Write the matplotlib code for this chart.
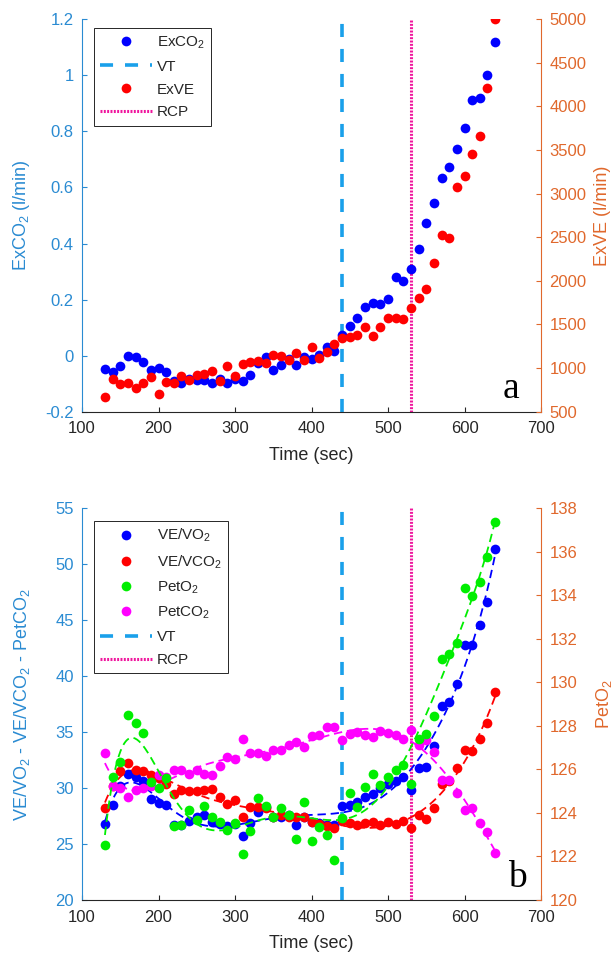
import numpy as np
import matplotlib
matplotlib.use('Agg')
import matplotlib.pyplot as plt
from matplotlib.lines import Line2D

plt.rcParams['font.family'] = ['Liberation Sans', 'DejaVu Sans']
plt.rcParams['mathtext.fontset'] = 'custom'
plt.rcParams['mathtext.rm'] = 'Liberation Sans'
plt.rcParams['mathtext.it'] = 'Liberation Sans:italic'
plt.rcParams['mathtext.default'] = 'regular'
plt.rcParams['axes.unicode_minus'] = False
plt.rcParams['lines.scale_dashes'] = False

# ---------------- data ----------------
time = [130, 140, 150, 160, 170, 180, 190, 200, 210, 220, 230, 240, 250, 260,
        270, 280, 290, 300, 310, 320, 330, 340, 350, 360, 370, 380, 390, 400,
        410, 420, 430, 440, 450, 460, 470, 480, 490, 500, 510, 520, 530, 540,
        550, 560, 570, 580, 590, 600, 610, 620, 630, 640]

ex_co2 = [-0.048, -0.057, -0.037, -0.001, -0.006, -0.024, -0.051, -0.043, -0.060,
          -0.090, -0.099, -0.084, -0.087, -0.087, -0.099, -0.084, -0.099, -0.084,
          -0.090, -0.068, -0.027, -0.004, -0.053, -0.033, -0.013, -0.033, -0.004,
          -0.013, 0.001, 0.032, 0.018, 0.074, 0.106, 0.133, 0.175, 0.189, 0.184,
          0.202, 0.279, 0.266, 0.308, 0.380, 0.472, 0.546, 0.634, 0.672, 0.737,
          0.813, 0.912, 0.920, 1.001, 1.118]

ex_ve = [672, 871, 814, 825, 776, 833, 902, 699, 844, 825, 909, 863, 921, 932,
         970, 852, 1028, 909, 1047, 1074, 1085, 1062, 1150, 1143, 1093, 1177,
         1093, 1238, 1120, 1188, 1276, 1349, 1360, 1380, 1467, 1368, 1475, 1578,
         1578, 1559, 1693, 1800, 1903, 2201, 2526, 2496, 3080, 3203, 3452, 3662,
         4216, 5000]

ve_vo2 = [26.8, 28.5, 30.2, 31.3, 31.0, 30.6, 29.0, 28.7, 28.5, 26.7, 26.7, 27.1,
          27.4, 27.6, 27.0, 26.8, 26.6, 26.8, 25.7, 26.9, 27.9, 28.3, 27.4, 27.4,
          27.6, 26.7, 27.4, 27.0, 26.85, 26.7, 26.7, 28.4, 28.5, 28.8, 29.2, 29.5,
          30.0, 30.4, 30.6, 31.0, 29.8, 31.8, 31.9, 33.8, 37.3, 37.7, 39.3, 42.8,
          42.8, 44.6, 46.6, 51.4]

ve_vco2 = [28.2, 30.2, 31.5, 32.2, 31.6, 31.5, 31.2, 30.9, 30.4, 29.5, 29.8, 29.7,
           29.7, 29.8, 29.9, 29.2, 28.6, 28.9, 27.4, 28.3, 28.3, 28.2, 27.4, 27.6,
           27.4, 27.4, 27.4, 27.0, 26.8, 26.6, 26.4, 27.1, 26.85, 26.7, 26.85, 27.0,
           26.7, 27.0, 26.8, 27.1, 26.4, 27.6, 27.2, 28.2, 30.4, 30.6, 31.8, 33.4,
           33.3, 34.4, 35.8, 38.6]

pet_o2 = [122.53, 125.67, 126.36, 128.5, 128.15, 127.69, 125.44, 125.16, 125.59,
          123.4, 123.45, 124.13, 123.68, 124.32, 123.83, 123.6, 123.2, 123.55,
          122.11, 123.19, 124.70, 124.32, 123.83, 124.21, 123.9, 122.79, 124.52,
          122.73, 123.37, 122.99, 121.84, 123.75, 124.9, 124.29, 125.21, 125.77,
          125.28, 125.67, 125.97, 126.2, 125.33, 127.38, 127.63, 128.45, 131.07,
          131.3, 131.8, 134.32, 133.97, 134.6, 135.78, 137.39]

pet_co2 = [33.16, 30.18, 29.98, 29.17, 29.83, 29.98, 30.2, 31.17, 31.0, 31.6, 31.6,
           31.3, 31.6, 31.26, 31.17, 31.97, 32.8, 32.57, 34.35, 33.1, 33.1, 32.86,
           33.4, 33.4, 33.85, 34.15, 33.7, 34.65, 34.74, 35.5, 35.5, 34.3, 34.83,
           35.04, 34.74, 34.53, 35.13, 34.95, 34.74, 34.35, 35.19, 33.85, 34.3,
           33.25, 30.72, 30.72, 29.53, 28.04, 28.19, 26.9, 26.1, 24.17]

vt_time = 440
rcp_time = 530

x_ticks = [100, 200, 300, 400, 500, 600, 700]
a_left_ticks = [-0.2, 0, 0.2, 0.4, 0.6, 0.8, 1, 1.2]
a_left_labels = ['-0.2', '0', '0.2', '0.4', '0.6', '0.8', '1', '1.2']
a_right_ticks = [500, 1000, 1500, 2000, 2500, 3000, 3500, 4000, 4500, 5000]
b_left_ticks = [20, 25, 30, 35, 40, 45, 50, 55]
b_right_ticks = [120, 122, 124, 126, 128, 130, 132, 134, 136, 138]

# ---------------- style ----------------
C_LEFT = '#2a8bd2'
C_RIGHT = '#e0682c'
C_TXT = '#262626'
C_VT = '#1aa0ea'
C_RCP = '#f0159d'
MS = 7

W, H = 616, 955
fig = plt.figure(figsize=(W / 100, H / 100), dpi=100)
L0, R0 = 82, 541
axA = fig.add_axes([L0 / W, 1 - 411.7 / H, (R0 - L0) / W, (411.7 - 19.3) / H])
axB = fig.add_axes([L0 / W, 1 - 900 / H, (R0 - L0) / W, (900 - 508.3) / H])


def style(ax, tw):
    ax.spines['top'].set_visible(False)
    ax.spines['right'].set_visible(False)
    ax.spines['left'].set_color(C_LEFT)
    ax.spines['bottom'].set_color(C_TXT)
    for s in ax.spines.values():
        s.set_linewidth(0.8)
    for s in ['top', 'left', 'bottom']:
        tw.spines[s].set_visible(False)
    tw.spines['right'].set_color(C_RIGHT)
    tw.spines['right'].set_linewidth(0.8)
    ax.tick_params(axis='y', direction='in', colors=C_LEFT, length=3.5,
                   width=0.8, labelsize=12, pad=6)
    ax.tick_params(axis='x', direction='in', colors=C_TXT, length=3.5,
                   width=0.8, labelsize=12, pad=7)
    tw.tick_params(axis='y', direction='in', colors=C_RIGHT, length=3.5,
                   width=0.8, labelsize=12, pad=6)
    ax.set_xlim(100, 700)
    ax.set_xticks(x_ticks)
    ax.set_xlabel('Time (sec)', fontsize=13, color=C_TXT)
    ax.xaxis.set_label_coords(0.5, -0.09)
    ax.yaxis.set_label_coords(-0.109, 0.5)
    tw.yaxis.set_label_coords(1.115, 0.5)


def vlines(ax):
    ax.axvline(vt_time, color=C_VT, lw=2.6, dashes=(9.4, 8.6), zorder=1)
    ax.axvline(rcp_time, color=C_RCP, lw=2.2, dashes=(1.4, 1.0), zorder=1)


def fit_curve(x, y, deg=7):
    x = np.asarray(x, float)
    y = np.asarray(y, float)
    m, s = x.mean(), x.std()
    c = np.polyfit((x - m) / s, y, deg)
    xf = np.linspace(x.min(), x.max(), 400)
    return xf, np.polyval(c, (xf - m) / s)


leg_kw = dict(loc='upper left', fontsize=11, frameon=True, fancybox=False,
              framealpha=1, edgecolor=C_TXT, handlelength=3.4,
              handletextpad=0.3, labelspacing=0.58, borderpad=0.4,
              borderaxespad=0)

# ---------------- panel a ----------------
twA = axA.twinx()
style(axA, twA)
vlines(axA)
axA.plot(time, ex_co2, 'o', color='#0000ff', ms=MS, mew=0, zorder=3)
twA.plot(time, ex_ve, 'o', color='#ff0000', ms=MS, mew=0, zorder=3)
axA.set_ylim(-0.2, 1.2)
axA.set_yticks(a_left_ticks)
axA.set_yticklabels(a_left_labels)
twA.set_ylim(500, 5000)
twA.set_yticks(a_right_ticks)
axA.set_ylabel('ExCO$_2$ (l/min)', fontsize=13, color=C_LEFT)
twA.set_ylabel('ExVE (l/min)', fontsize=13, color=C_RIGHT)
handlesA = [
    Line2D([], [], ls='none', marker='o', color='#0000ff', ms=MS, mew=0),
    Line2D([], [], color=C_VT, lw=2.6, dashes=(9.4, 8.6)),
    Line2D([], [], ls='none', marker='o', color='#ff0000', ms=MS, mew=0),
    Line2D([], [], color=C_RCP, lw=2.2, dashes=(1.4, 1.0)),
]
legA = twA.legend(handlesA, ['ExCO$_2$', 'VT', 'ExVE', 'RCP'],
                  bbox_to_anchor=(0.026, 0.977), **leg_kw)
legA.get_frame().set_linewidth(0.7)
for t in legA.get_texts():
    t.set_color(C_TXT)
axA.text(0.934, 0.034, 'a', transform=axA.transAxes, ha='center',
         va='baseline', fontsize=27, family='Liberation Serif', color='black')

# ---------------- panel b ----------------
twB = axB.twinx()
style(axB, twB)
vlines(axB)
series_b = [(ve_vo2, '#0000ff', axB), (ve_vco2, '#ff0000', axB),
            (pet_co2, '#ff00ff', axB), (pet_o2, '#00ee00', twB)]
for vals, col, ax in series_b:
    xf, yf = fit_curve(time, vals)
    ax.plot(xf, yf, color=col, lw=1.3, dashes=(6, 3.5), zorder=2)
    ax.plot(time, vals, 'o', color=col, ms=MS, mew=0, zorder=3)
axB.set_ylim(20, 55)
axB.set_yticks(b_left_ticks)
twB.set_ylim(120, 138)
twB.set_yticks(b_right_ticks)
axB.set_ylabel('VE/VO$_2$ - VE/VCO$_2$ - PetCO$_2$', fontsize=13, color=C_LEFT)
twB.set_ylabel('PetO$_2$', fontsize=13, color=C_RIGHT)
handlesB = [
    Line2D([], [], ls='none', marker='o', color='#0000ff', ms=MS, mew=0),
    Line2D([], [], ls='none', marker='o', color='#ff0000', ms=MS, mew=0),
    Line2D([], [], ls='none', marker='o', color='#00ee00', ms=MS, mew=0),
    Line2D([], [], ls='none', marker='o', color='#ff00ff', ms=MS, mew=0),
    Line2D([], [], color=C_VT, lw=2.6, dashes=(9.4, 8.6)),
    Line2D([], [], color=C_RCP, lw=2.2, dashes=(1.4, 1.0)),
]
legB = twB.legend(handlesB, ['VE/VO$_2$', 'VE/VCO$_2$', 'PetO$_2$', 'PetCO$_2$',
                             'VT', 'RCP'],
                  bbox_to_anchor=(0.026, 0.968), **leg_kw)
legB.get_frame().set_linewidth(0.7)
for t in legB.get_texts():
    t.set_color(C_TXT)
axB.text(0.948, 0.034, 'b', transform=axB.transAxes, ha='center',
         va='baseline', fontsize=27, family='Liberation Serif', color='black')

fig.savefig('out.png', dpi=100)
